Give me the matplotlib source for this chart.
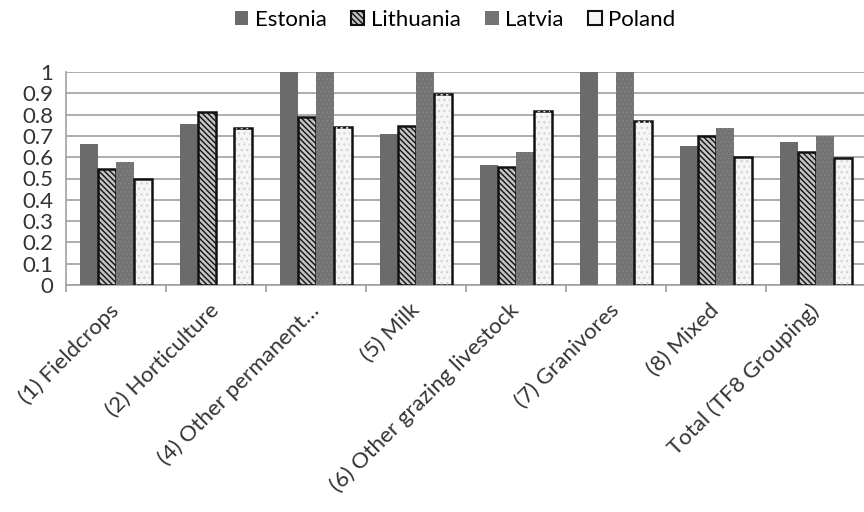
import matplotlib
matplotlib.use('Agg')
import matplotlib.pyplot as plt
from matplotlib.patches import Patch
from matplotlib.ticker import FormatStrFormatter
import numpy as np

plt.rcParams['font.family'] = ['Lato', 'DejaVu Sans']
plt.rcParams['hatch.linewidth'] = 1.0

# Data (nan = no bar)
categories = ['(1) Fieldcrops', '(2) Horticulture', '(4) Other permanent…', '(5) Milk',
              '(6) Other grazing livestock', '(7) Granivores', '(8) Mixed', 'Total (TF8 Grouping)']
estonia = [0.66, 0.755, 1.0, 0.71, 0.563, 1.0, 0.653, 0.67]
lithuania = [0.543, 0.814, 0.79, 0.748, 0.552, np.nan, 0.70, 0.626]
latvia = [0.579, np.nan, 1.0, 1.0, 0.626, 1.0, 0.739, 0.70]
poland = [0.498, 0.736, 0.743, 0.897, 0.818, 0.768, 0.60, 0.596]

fig = plt.figure(figsize=(8.64, 5.12), dpi=100)
ax = fig.add_axes([66 / 864, 1 - 285 / 512, 800 / 864, 213 / 512])

x = np.arange(len(categories))
w = 0.18
ax.bar(x - 1.5 * w, estonia, w, color='#6b6b6b', edgecolor='none', zorder=3)
ax.bar(x - 0.5 * w, lithuania, w, color='#c4c4c4', edgecolor='#111111', hatch='\\\\\\\\\\\\',
       linewidth=1.8, zorder=3)
ax.bar(x + 0.5 * w, latvia, w, color='#737373', edgecolor='#808080', hatch='....',
       linewidth=0, zorder=3)
ax.bar(x + 1.5 * w, poland, w, color='#f6f6f6', edgecolor='#111111', linewidth=1.8, zorder=3)
# light dots inside Poland bars
ax.bar(x + 1.5 * w, poland, w * 0.8, color='none', edgecolor='#cfd6dc', hatch='...',
       linewidth=0, zorder=3)

ax.set_xlim(-0.5, len(categories) - 0.5)
ax.set_ylim(0, 1)
ax.set_yticks(np.arange(0, 1.01, 0.1))
ax.yaxis.set_major_formatter(FormatStrFormatter('%g'))
ax.grid(axis='y', color='#a0a0a0', linewidth=1.2, zorder=0)
ax.tick_params(axis='y', length=0, labelsize=16, colors='#333333', pad=9)

ax.set_xticks(x)
ax.set_xticklabels(categories, rotation=45, ha='right', va='center', rotation_mode='anchor',
                   fontsize=16, color='#333333')
ax.tick_params(axis='x', length=0, pad=16)
ax.set_xticks(np.arange(-0.5, len(categories)), minor=True)
ax.tick_params(axis='x', which='minor', length=5, color='#a0a0a0', width=1.2)

for s in ['top', 'right']:
    ax.spines[s].set_visible(False)
ax.spines['left'].set_color('#a0a0a0')
ax.spines['bottom'].set_color('#a0a0a0')
ax.spines['left'].set_linewidth(1.2)
ax.spines['bottom'].set_linewidth(1.2)

handles = [
    Patch(facecolor='#6b6b6b', edgecolor='none'),
    Patch(facecolor='#c4c4c4', edgecolor='#111111', hatch='\\\\\\\\\\\\', linewidth=1.5),
    Patch(facecolor='#737373', edgecolor='none'),
    Patch(facecolor='#f6f6f6', edgecolor='#111111', linewidth=1.5),
]
fig.legend(handles, ['Estonia', 'Lithuania', 'Latvia', 'Poland'], loc='center',
           bbox_to_anchor=(455 / 864, 1 - 20 / 512), ncol=4, frameon=False, fontsize=16,
           handlelength=0.6, handleheight=0.6, handletextpad=0.3, columnspacing=1.1)

fig.savefig('out.png', dpi=100)
